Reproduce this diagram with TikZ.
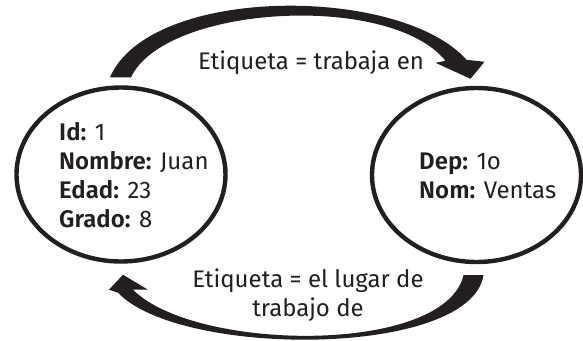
\documentclass[tikz,border=0pt]{standalone}
\usepackage{fontspec}
\setmainfont{Fira Sans}[BoldFont={Fira Sans SemiBold}]
\usepackage{xcolor}
\usetikzlibrary{calc, shapes.geometric}
\definecolor{tinta}{RGB}{35,31,32}
\newcommand{\campo}[2]{\textbf{#1:} #2}

\begin{document}
\begin{tikzpicture}[x=1pt, y=-1pt,
    every node/.style={text=tinta, font=\fontsize{24}{29}\selectfont},
    entidad/.style={ellipse, draw=tinta, line width=4.4pt, minimum width=209pt, minimum height=174pt}]
            \useasboundingbox (0,0) rectangle (583,340);

            \node[entidad] (emp) at (121,174.5) {};
            \node[entidad] (dep) at (476.5,175) {};

            \foreach \clave/\valor [count=\i] in {Id/1, Nombre/Juan, Edad/23, Grado/8}
                \node[anchor=base west, inner sep=0] (emp\i) at (59,{140+29*(\i-1)}) {\campo{\clave}{\valor}};
            \foreach \clave/\valor [count=\i] in {Dep/1o, Nom/Ventas}
                \node[anchor=base west, inner sep=0] (dep\i) at (419,{169+29*(\i-1)}) {\campo{\clave}{\valor}};

            \coordinate (t1) at ($(emp.north)+(0,-8)$);
            \coordinate (p1) at ($(dep.north)+(-6,-7)$);
            \fill[tinta] ($(t1)+(-11,0)$) .. controls (150,-15) and (400,-15) .. ($(p1)+(-4,-19)$)
                -- ($(p1)+(14,-17)$) -- (p1) -- ($(p1)+(-35,-16)$) -- ($(p1)+(-25,-18)$)
                .. controls (390,-8) and (165,5) .. ($(t1)+(10,0)$) -- cycle;
            \node[anchor=base, inner sep=0] (etq1) at (311,69) {Etiqueta = trabaja en};

            \coordinate (t2) at ($(dep.south)+(-3,11)$);
            \coordinate (p2) at ($(emp.south)+(2,11)$);
            \fill[tinta] ($(t2)+(10,0)$) .. controls (470,358) and (180,358) .. ($(p2)+(-5,18)$)
                -- ($(p2)+(-14,15)$) -- (p2) -- ($(p2)+(25,15)$) -- ($(p2)+(10,15)$)
                .. controls (195,352) and (445,355) .. ($(t2)+(-10,0)$) -- cycle;
            \node[anchor=base, inner sep=0] (etq2) at (308,287) {Etiqueta = el lugar de};
            \node[anchor=base, inner sep=0] (etq3) at (308,316) {trabajo de};

        \end{tikzpicture}
\end{document}
